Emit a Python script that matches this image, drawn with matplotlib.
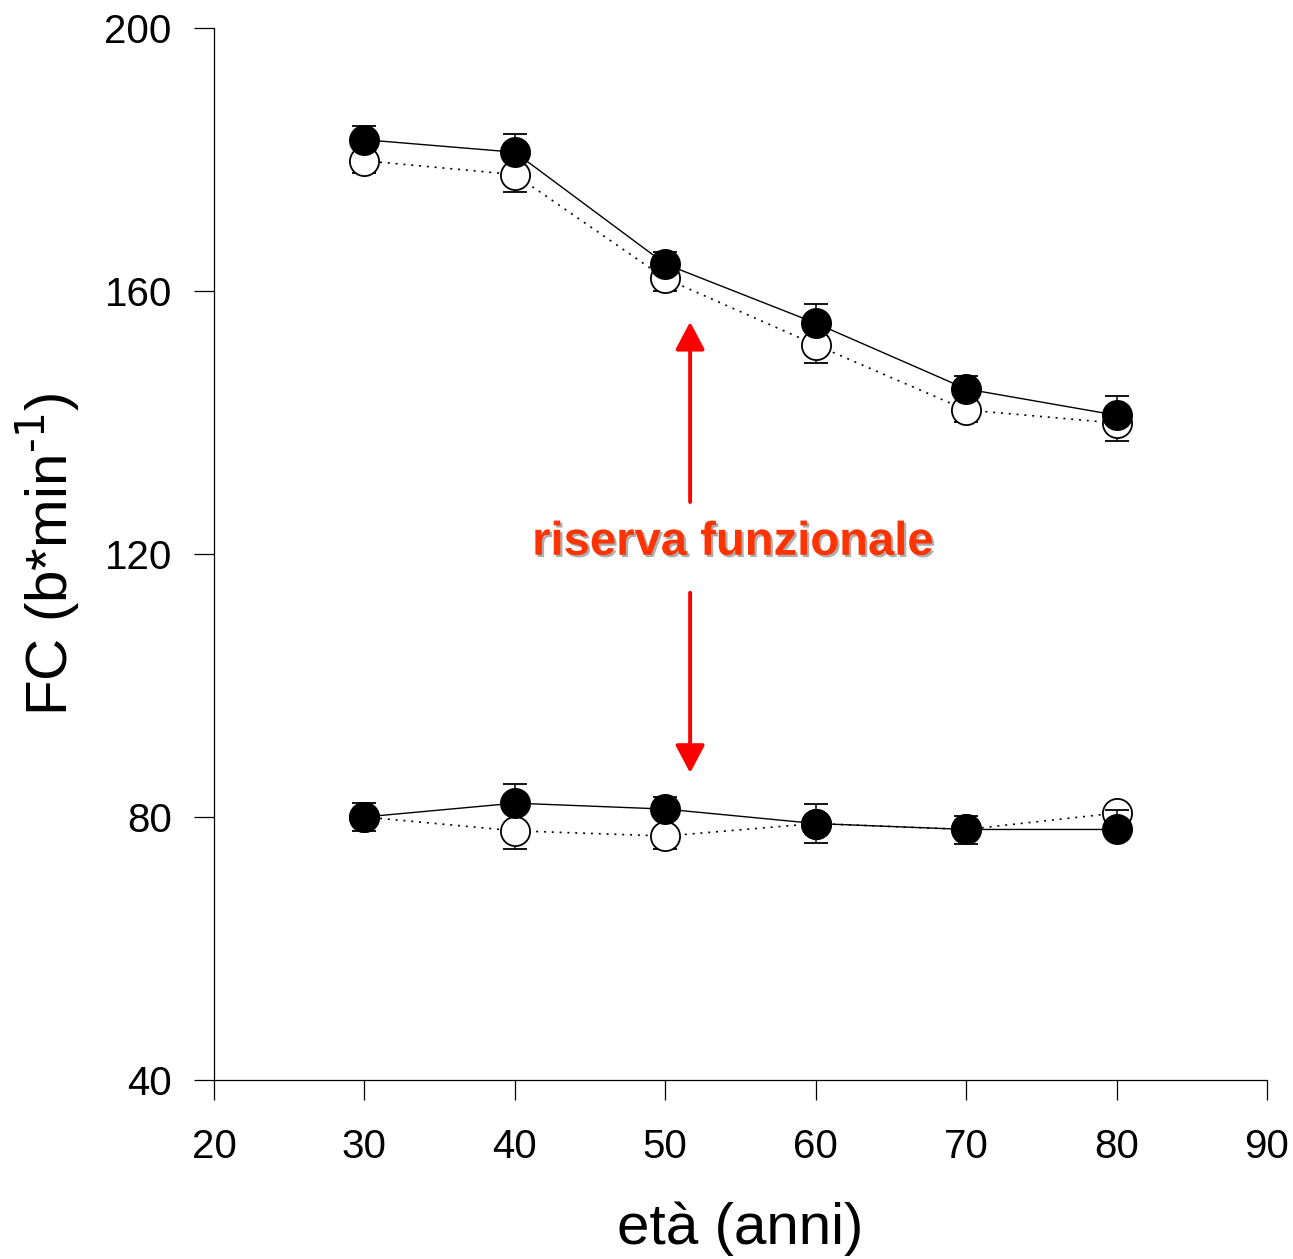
import matplotlib
matplotlib.use("Agg")
import matplotlib.pyplot as plt
import matplotlib.patheffects as pe

plt.rcParams['font.family'] = ['Liberation Sans', 'DejaVu Sans']
plt.rcParams['axes.unicode_minus'] = False

eta = [30, 40, 50, 60, 70, 80]

# frequenza cardiaca massima
max_pieno = [183.0, 181.1, 164.1, 155.1, 145.1, 141.1]
max_pieno_err = [2.1, 2.8, 1.9, 2.9, 1.9, 2.9]
max_vuoto = [179.8, 177.7, 161.9, 151.8, 141.9, 139.9]
max_vuoto_err = [1.8, 2.6, 1.9, 2.7, 1.9, 2.7]

# frequenza cardiaca a riposo
rip_pieno = [80.0, 82.1, 81.2, 79.0, 78.1, 78.1]
rip_pieno_err = [2.1, 2.9, 1.9, 3.0, 2.1, 2.9]
rip_vuoto = [80.0, 77.9, 77.1, 79.0, 78.1, 80.6]
rip_vuoto_err = [2.1, 2.8, 2.0, 3.0, 2.2, 2.0]

fig = plt.figure(figsize=(12.93, 12.59), dpi=100)
ax = fig.add_axes([0.1655, 0.1422, 0.8144, 0.8356])

def serie(y, err, pieno):
    if pieno:
        yerr = [[0]*len(err), err]
        ls = '-'
        fc = 'black'
        lw = 1.0
    else:
        yerr = [err, [0]*len(err)]
        ls = (0, (1.2, 3.5))
        fc = 'white'
        lw = 1.2
    ax.errorbar(eta, y, yerr=yerr, fmt='o', ls=ls, color='black', lw=lw,
                ms=21, mfc=fc, mec='black', mew=1.3, capsize=8.5,
                capthick=1.1, elinewidth=1.1, zorder=3 if pieno else 2)

serie(max_vuoto, max_vuoto_err, False)
serie(max_pieno, max_pieno_err, True)
serie(rip_vuoto, rip_vuoto_err, False)
serie(rip_pieno, rip_pieno_err, True)

# freccia riserva funzionale
x_freccia = 51.65
stile = "-|>,head_length=17,head_width=9"
ax.annotate('', xy=(x_freccia, 155.3), xytext=(x_freccia, 127.9),
            arrowprops=dict(arrowstyle=stile, color='#ff0000', lw=2.8,
                            mutation_scale=1, shrinkA=0, shrinkB=0))
ax.annotate('', xy=(x_freccia, 86.7), xytext=(x_freccia, 114.1),
            arrowprops=dict(arrowstyle=stile, color='#ff0000', lw=2.8,
                            mutation_scale=1, shrinkA=0, shrinkB=0))
ax.text(54.5, 121.7, 'riserva funzionale', color='#ff3300', fontsize=34,
        fontweight='bold', ha='center', va='center',
        path_effects=[pe.SimplePatchShadow(offset=(1.6, -1.6), shadow_rgbFace='#999999', alpha=0.8),
                      pe.Normal()])

ax.set_xlim(20, 90)
ax.set_ylim(40, 200)
ax.set_xticks([20, 30, 40, 50, 60, 70, 80, 90])
ax.set_yticks([40, 80, 120, 160, 200])

for s in ['top', 'right']:
    ax.spines[s].set_visible(False)
for s in ['left', 'bottom']:
    ax.spines[s].set_linewidth(0.9)

ax.tick_params(axis='both', direction='out', length=14.4, width=0.9, labelsize=29)
ax.tick_params(axis='x', pad=20)
ax.tick_params(axis='y', pad=16)

ax.set_xlabel('età (anni)', fontsize=42, labelpad=26)
ax.set_ylabel('FC (b*min$^{\\text{-1}}$)', fontsize=42, labelpad=16)

fig.savefig('out.png', dpi=100)
